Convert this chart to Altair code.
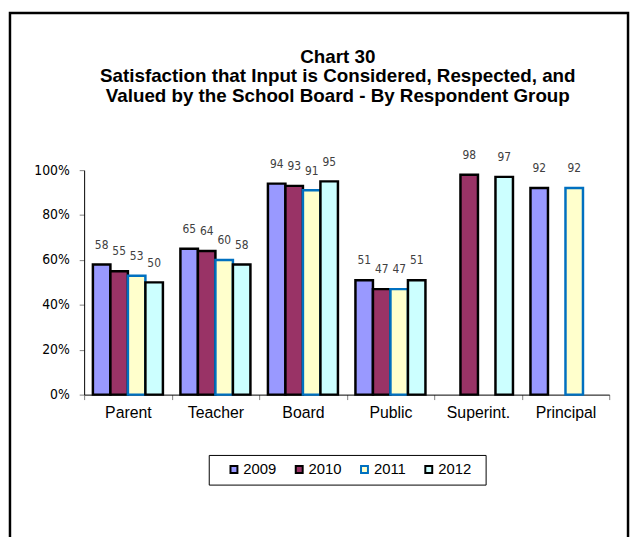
import altair as alt
import pandas as pd

categories = ["Parent", "Teacher", "Board", "Public", "Superint.", "Principal"]
years = ["2009", "2010", "2011", "2012"]
v2009 = [58, 65, 94, 51, None, 92]
v2010 = [55, 64, 93, 47, 98, None]
v2011 = [53, 60, 91, 47, None, 92]
v2012 = [50, 58, 95, 51, 97, None]
fills = ["#9999FF", "#993366", "#FFFFCC", "#CCFFFF"]
strokes = ["#000000", "#000000", "#0070C0", "#000000"]

rows = []
for yr, vals in zip(years, [v2009, v2010, v2011, v2012]):
    for c, v in zip(categories, vals):
        if v is not None:
            rows.append({"group": c, "year": yr, "value": v / 100.0, "label": str(v)})
df = pd.DataFrame(rows)

NARROW = "'Liberation Sans Narrow', 'Arial Narrow', 'DejaVu Sans Condensed', sans-serif"
SANS = "'Liberation Sans', Arial, sans-serif"

base = alt.Chart(df).encode(
    x=alt.X("group:N", sort=categories, title=None,
            scale=alt.Scale(domain=categories, paddingInner=0, paddingOuter=0),
            axis=alt.Axis(labelAngle=0, tickBand="extent", labelFont=SANS, labelFontSize=16,
                          labelColor="#000000", domainColor="#000000", domainWidth=1,
                          tickColor="#808080", tickSize=5, labelPadding=5)),
    xOffset=alt.XOffset("year:N", sort=years,
                        scale=alt.Scale(domain=years, paddingInner=0, paddingOuter=0.5)),
    y=alt.Y("value:Q", title=None,
            scale=alt.Scale(domain=[0, 1], nice=False),
            axis=alt.Axis(values=[0, 0.2, 0.4, 0.6, 0.8, 1.0], format=".0%", grid=False,
                          labelFont=NARROW, labelFontSize=14, labelColor="#000000",
                          domainColor="#000000", tickColor="#808080", tickSize=5,
                          labelPadding=10)),
)

bars = base.mark_bar(strokeWidth=2.5).encode(
    fill=alt.Fill("year:N", sort=years, scale=alt.Scale(domain=years, range=fills),
                  legend=alt.Legend(title=" ", titleOrient="right", titleFontSize=4, titlePadding=8,
                                    orient="none", legendX=126, legendY=288,
                                    direction="horizontal", columns=4,
                                    symbolType="square", symbolSize=49, symbolStrokeWidth=2,
                                    symbolOffset=11, labelOffset=2, columnPadding=4,
                                    labelFont=SANS, labelFontSize=15, labelColor="#000000",
                                    padding=7, strokeColor="#000000", fillColor="#FFFFFF")),
    stroke=alt.Stroke("year:N", sort=years, scale=alt.Scale(domain=years, range=strokes)),
)

labels = base.mark_text(baseline="middle", dy=-20, font=NARROW, fontSize=12,
                        color="#404040").encode(text="label:N")

frame = alt.Chart(pd.DataFrame({"a": [0]})).mark_rect(
    fill=None, stroke="#000000", strokeWidth=2.5
).encode(x=alt.value(-75), x2=alt.value(550), y=alt.value(-159), y2=alt.value(420))

chart = alt.layer(frame, bars, labels).properties(
    width=531, height=227,
    padding={"left": 77, "top": 161, "right": 21, "bottom": 141},
    autosize=alt.AutoSizeParams(type="none"),
    title=alt.TitleParams(
        text=["Chart 30",
              "Satisfaction that Input is Considered, Respected, and",
              "Valued by the School Board - By Respondent Group"],
        font=SANS, fontSize=19, fontWeight="bold", color="#000000",
        anchor="middle", lineHeight=19.5, offset=-95, dx=-9),
).configure_view(stroke=None)

chart.save("out.html", embed_options={"renderer": "svg", "actions": False})
